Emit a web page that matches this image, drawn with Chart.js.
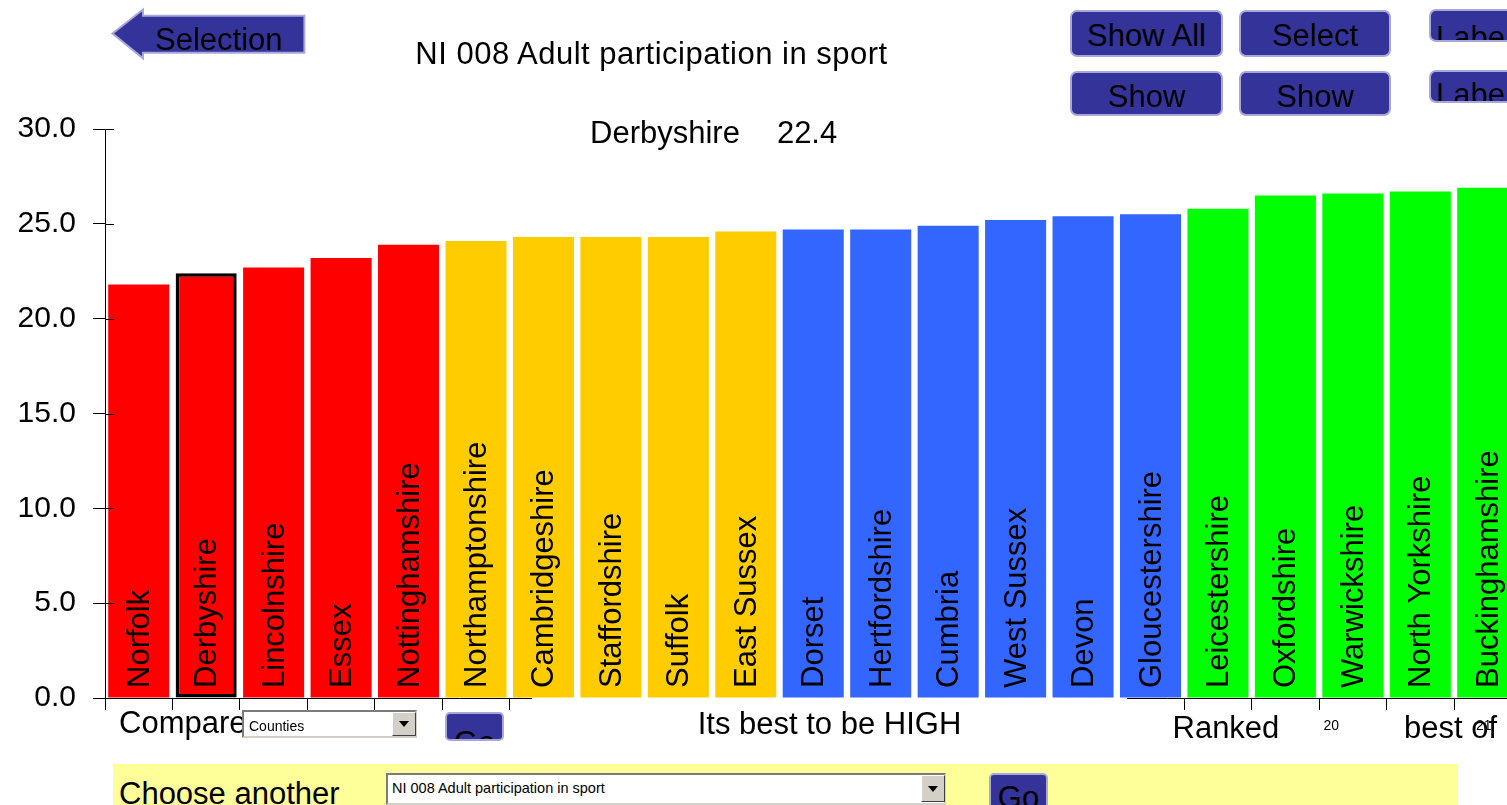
<!DOCTYPE html>
<html>
<head>
<meta charset="utf-8">
<title>NI 008 Adult participation in sport</title>
<script src="https://cdn.jsdelivr.net/npm/chart.js@4.4.1/dist/chart.umd.min.js"></script>
<style>
  html, body { margin: 0; padding: 0; background: #fff; }
  body { width: 1507px; height: 805px; overflow: hidden; position: relative;
         font-family: "Liberation Sans", Arial, sans-serif; color: #000; }
  #chart { position: absolute; left: 0; top: 0; }
  .txt { position: absolute; font-size: 31px; line-height: 31px; white-space: pre; z-index: 2; }
  .small { position: absolute; font-size: 14px; line-height: 14px; white-space: pre; z-index: 3; }
  .btn { position: absolute; box-sizing: border-box; background: #333399; border: 2px solid #a8a8d8;
         border-radius: 7px; font-size: 31px; line-height: 31px; text-align: center; overflow: hidden;
         white-space: pre; z-index: 2; }
  .combo { position: absolute; box-sizing: border-box; background: #fff; z-index: 3;
           border-style: solid; border-width: 2px; border-color: #7b7b7b #d4d0c8 #d4d0c8 #7b7b7b; }
  .drop { position: absolute; box-sizing: border-box; background: #d4d0c8; z-index: 4;
          border-style: solid; border-width: 1px; border-color: #fff #404040 #404040 #fff; }
  .drop::after { content: ""; position: absolute; left: 50%; top: 50%; margin: -3px 0 0 -5px;
                 border-left: 5px solid transparent; border-right: 5px solid transparent; border-top: 6px solid #000; }
</style>
</head>
<body>
<canvas id="chart" width="1530" height="805"></canvas>

<svg style="position:absolute;left:0;top:0;z-index:2" width="320" height="70">
  <polygon points="112.5,33.5 143,9.5 143,15.7 304.4,15.7 304.4,52.7 143,52.7 143,58.3"
           fill="#333399" stroke="#a8a8d8" stroke-width="2"/>
  <text x="155" y="50" font-family="Liberation Sans, Arial, sans-serif" font-size="31" fill="#000">Selection</text>
</svg>

<div class="txt" id="title" style="left:351.5px;top:37.8px;width:600px;text-align:center;letter-spacing:0.5px">NI 008 Adult participation in sport</div>
<div class="txt" id="current" style="left:590px;top:117.1px"></div>

<div class="btn" style="left:1070px;top:10px;width:153px;height:47px;padding-top:7.5px">Show All</div>
<div class="btn" style="left:1239px;top:10px;width:152px;height:47px;padding-top:7.5px">Select</div>
<div class="btn" style="left:1429px;top:9px;width:120px;height:33px;padding-top:11px;text-align:left;padding-left:5px">Label</div>
<div class="btn" style="left:1070px;top:71px;width:153px;height:45px;padding-top:8px">Show</div>
<div class="btn" style="left:1239px;top:71px;width:152px;height:45px;padding-top:8px">Show</div>
<div class="btn" style="left:1429px;top:70px;width:120px;height:33px;padding-top:7px;text-align:left;padding-left:5px">Label</div>

<div class="txt" style="left:119px;top:706.5px">Compare</div>
<div class="combo" style="left:242px;top:710px;width:175px;height:28px"></div>
<div class="small" style="left:249px;top:718.8px">Counties</div>
<div class="drop" style="left:392px;top:712px;width:24px;height:24px"></div>
<div class="btn" style="left:445px;top:712px;width:59px;height:29px;padding-top:12.8px;border-radius:5px">Go</div>

<div style="position:absolute;left:532px;top:698px;width:595px;height:46px;background:#fff;z-index:1"></div>
<div class="txt" style="left:532px;top:707.8px;width:595px;text-align:center">Its best to be HIGH</div>

<div class="txt" style="left:1172.5px;top:711.8px">Ranked</div>
<div class="small" id="rank" style="left:1323.5px;top:718px"></div>
<div class="txt" style="left:1404px;top:711.8px">best of</div>
<div class="small" id="total" style="left:1476px;top:718px"></div>

<div style="position:absolute;left:112.5px;top:764px;width:1345.5px;height:41px;background:#ffff99;z-index:1"></div>
<div class="txt" style="left:119px;top:777.7px">Choose another</div>
<div class="combo" style="left:386px;top:773px;width:560px;height:32px"></div>
<div class="small" style="left:392px;top:780.7px;font-size:14.5px;line-height:14.5px">NI 008 Adult participation in sport</div>
<div class="drop" style="left:921px;top:775px;width:24px;height:27px"></div>
<div class="btn" style="left:989px;top:773px;width:59px;height:45px;padding-top:7px;border-radius:5px">Go</div>

<script>
// counties ranked low to high on NI 008
var counties = ['Norfolk', 'Derbyshire', 'Lincolnshire', 'Essex', 'Nottinghamshire',
  'Northamptonshire', 'Cambridgeshire', 'Staffordshire', 'Suffolk', 'East Sussex',
  'Dorset', 'Hertfordshire', 'Cumbria', 'West Sussex', 'Devon', 'Gloucestershire',
  'Leicestershire', 'Oxfordshire', 'Warwickshire', 'North Yorkshire', 'Buckinghamshire'];
// % of adults participating in sport
var participation = [21.8, 22.4, 22.7, 23.2, 23.9,
  24.1, 24.3, 24.3, 24.3, 24.6,
  24.7, 24.7, 24.9, 25.2, 25.4, 25.5,
  25.8, 26.5, 26.6, 26.7, 26.9];
// quartile band of each county (1 = best)
var quartile = [4, 4, 4, 4, 4, 3, 3, 3, 3, 3, 2, 2, 2, 2, 2, 2, 1, 1, 1, 1, 1];
var selectedCounty = 'Derbyshire';

var bandColours = { 1: '#00ff00', 2: '#3366ff', 3: '#ffcc00', 4: '#ff0000' };
var sel = counties.indexOf(selectedCounty);
var font = '"Liberation Sans", Arial, sans-serif';

document.getElementById('current').innerHTML =
  selectedCounty + '<span style="margin-left:37px">' + participation[sel].toFixed(1) + '</span>';
document.getElementById('rank').textContent =
  participation.filter(function(v) { return v > participation[sel]; }).length + 1;
document.getElementById('total').textContent = counties.length;

// county names written up the inside of each bar
var barLabels = {
  id: 'barLabels',
  afterDatasetsDraw: function(chart) {
    var ctx = chart.ctx;
    var base = chart.scales.y.getPixelForValue(0);
    ctx.save();
    ctx.font = '31px ' + font;
    ctx.fillStyle = '#000';
    ctx.textAlign = 'left';
    ctx.textBaseline = 'alphabetic';
    chart.getDatasetMeta(0).data.forEach(function(bar, i) {
      ctx.save();
      ctx.translate(bar.x + 10, base - 10);
      ctx.rotate(-Math.PI / 2);
      ctx.fillText(chart.data.labels[i], 0, 0);
      ctx.restore();
    });
    ctx.restore();
  },
  // y ticks cross the axis line
  afterDraw: function(chart) {
    var ctx = chart.ctx, y = chart.scales.y;
    ctx.save();
    ctx.strokeStyle = '#000';
    ctx.lineWidth = 1;
    ctx.beginPath();
    y.ticks.forEach(function(t) {
      var py = Math.round(y.getPixelForValue(t.value)) + 0.5;
      ctx.moveTo(y.right, py);
      ctx.lineTo(y.right + 9, py);
    });
    ctx.stroke();
    ctx.restore();
  }
};

var ctx = document.getElementById('chart').getContext('2d');
var myChart = new Chart(ctx, {
  type: 'bar',
  data: {
    labels: counties,
    datasets: [{
      label: 'NI 008 Adult participation in sport',
      data: participation,
      backgroundColor: quartile.map(function(q) { return bandColours[q]; }),
      borderColor: counties.map(function(c, i) { return i === sel ? '#000' : 'rgba(255,255,255,0.5)'; }),
      borderWidth: counties.map(function(c, i) { return i === sel ? 3.5 : 0; }),
      borderSkipped: false,
      barPercentage: 0.905,
      categoryPercentage: 1
    }]
  },
  options: {
    responsive: false,
    devicePixelRatio: 1,
    animation: false,
    layout: { padding: { top: 129, right: 8.5, left: 0, bottom: 0 } },
    plugins: { legend: { display: false }, tooltip: { enabled: false } },
    scales: {
      x: {
        ticks: { display: false },
        grid: { drawOnChartArea: false, tickLength: 12, color: '#000', lineWidth: 1 },
        border: { color: '#000', width: 1 },
        afterFit: function(scale) { scale.height = 107; }
      },
      y: {
        min: 0,
        max: 30,
        ticks: {
          stepSize: 5,
          padding: 17,
          color: '#000',
          font: { family: font, size: 30 },
          callback: function(v) { return v.toFixed(1); }
        },
        grid: { drawOnChartArea: false, tickLength: 12, color: '#000', lineWidth: 1 },
        border: { color: '#000', width: 1 },
        afterFit: function(scale) { scale.width = 105; }
      }
    }
  },
  plugins: [barLabels]
});
</script>
</body>
</html>
